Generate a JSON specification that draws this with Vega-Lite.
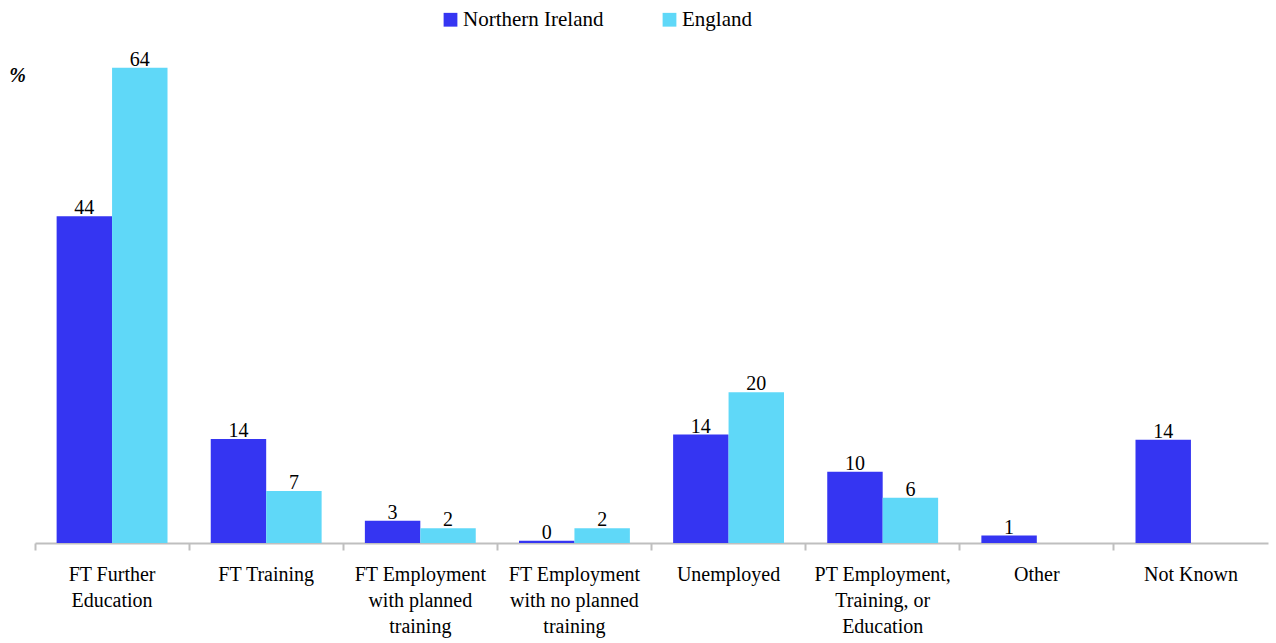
{
  "$schema": "https://vega.github.io/schema/vega-lite/v6.json",
  "width": 1233,
  "height": 505,
  "autosize": {"type": "none"},
  "padding": {"left": 35, "top": 38, "right": 8, "bottom": 100},
  "background": "white",
  "config": {
    "font": "'Liberation Serif', 'Times New Roman', serif",
    "view": {"stroke": null},
    "axis": {"labelFont": "'Liberation Serif', 'Times New Roman', serif", "titleFont": "'Liberation Serif', 'Times New Roman', serif"},
    "legend": {"labelFont": "'Liberation Serif', 'Times New Roman', serif"},
    "text": {"font": "'Liberation Serif', 'Times New Roman', serif"}
  },
  "data": {
    "values": [
      {"destination": "FT Further Education", "region": "Northern Ireland", "pct": 44},
      {"destination": "FT Further Education", "region": "England", "pct": 64},
      {"destination": "FT Training", "region": "Northern Ireland", "pct": 14},
      {"destination": "FT Training", "region": "England", "pct": 7},
      {"destination": "FT Employment with planned training", "region": "Northern Ireland", "pct": 3},
      {"destination": "FT Employment with planned training", "region": "England", "pct": 2},
      {"destination": "FT Employment with no planned training", "region": "Northern Ireland", "pct": 0.3, "label": "0"},
      {"destination": "FT Employment with no planned training", "region": "England", "pct": 2},
      {"destination": "Unemployed", "region": "Northern Ireland", "pct": 14.6, "label": "14"},
      {"destination": "Unemployed", "region": "England", "pct": 20.3, "label": "20"},
      {"destination": "PT Employment, Training, or Education", "region": "Northern Ireland", "pct": 9.6, "label": "10"},
      {"destination": "PT Employment, Training, or Education", "region": "England", "pct": 6.1, "label": "6"},
      {"destination": "Other", "region": "Northern Ireland", "pct": 1},
      {"destination": "Not Known", "region": "Northern Ireland", "pct": 13.9, "label": "14"}
    ]
  },
  "transform": [
    {"calculate": "isValid(datum.label) ? datum.label : format(datum.pct, 'd')", "as": "txt"}
  ],
  "encoding": {
    "x": {
      "field": "destination",
      "type": "nominal",
      "sort": null,
      "scale": {"paddingInner": 0, "paddingOuter": 0},
      "axis": {
        "title": null,
        "labelAngle": 0,
        "bandPosition": 0,
        "domainColor": "#bfbfbf",
        "domainWidth": 2,
        "tickColor": "#bfbfbf",
        "tickWidth": 2,
        "tickSize": 7,
        "labelFontSize": 20,
        "labelColor": "#000000",
        "labelPadding": 24,
        "labelLineHeight": 26,
        "labelBaseline": "middle",
        "labelExpr": "datum.value == 'FT Further Education' ? ['FT Further', 'Education'] : datum.value == 'FT Employment with planned training' ? ['FT Employment', 'with planned', 'training'] : datum.value == 'FT Employment with no planned training' ? ['FT Employment', 'with no planned', 'training'] : datum.value == 'PT Employment, Training, or Education' ? ['PT Employment,', 'Training, or', 'Education'] : datum.value"
      }
    },
    "xOffset": {
      "field": "region",
      "type": "nominal",
      "sort": ["Northern Ireland", "England"],
      "scale": {"paddingInner": 0, "paddingOuter": 0.39}
    },
    "y": {
      "field": "pct",
      "type": "quantitative",
      "scale": {"domain": [0, 68], "nice": false},
      "axis": {
        "title": "%",
        "titleAngle": 0,
        "titleX": -18,
        "titleY": 37,
        "titleFontSize": 20,
        "titleFontStyle": "italic",
        "titleFontWeight": "bold",
        "titleBaseline": "middle",
        "domain": false,
        "labels": false,
        "ticks": false,
        "grid": false
      }
    }
  },
  "layer": [
    {
      "mark": {"type": "bar"},
      "encoding": {
        "color": {
          "field": "region",
          "type": "nominal",
          "sort": ["Northern Ireland", "England"],
          "scale": {"domain": ["Northern Ireland", "England"], "range": ["#3535f2", "#5fd8f8"]},
          "legend": {
            "title": null,
            "orient": "none",
            "direction": "horizontal",
            "legendX": 405,
            "legendY": -29,
            "symbolType": "square",
            "symbolSize": 190,
            "symbolStrokeWidth": 0,
            "labelFontSize": 21,
            "labelColor": "#000000",
            "labelOffset": 2,
            "columnPadding": 55
          }
        }
      }
    },
    {
      "mark": {"type": "text", "baseline": "alphabetic", "dy": -2, "fontSize": 20, "color": "#000000", "font": "'Liberation Serif', 'Times New Roman', serif"},
      "encoding": {"text": {"field": "txt"}}
    }
  ]
}
